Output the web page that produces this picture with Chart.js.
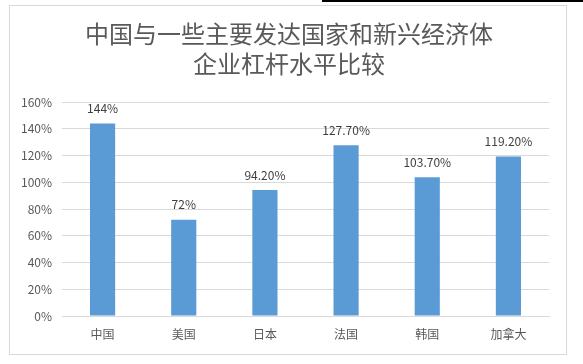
<!DOCTYPE html>
<html>
<head>
<meta charset="utf-8">
<script src="https://cdn.jsdelivr.net/npm/chart.js@4"></script>
<style>
    body { margin: 0; background: #fff; }
    #wrap { position: relative; width: 583px; height: 364px; overflow: hidden; }
    #frame { position: absolute; left: 9px; top: 5px; width: 558px; height: 350px; border: 1px solid #d9d9d9; box-sizing: border-box; }
    #topline { position: absolute; left: 322px; top: 0; width: 261px; height: 2px; background: #000; }
    #chart { position: absolute; left: 0; top: 0; }
</style>
</head>
<body>
<div id="wrap">
    <div id="frame"></div>
    <div id="topline"></div>
    <canvas id="chart" width="583" height="364"></canvas>
</div>
<script>
// chart data
const categories = ['中国', '美国', '日本', '法国', '韩国', '加拿大'];
const leverage = [144, 72, 94.2, 127.7, 103.7, 119.2]; // percent
const valueLabels = ['144%', '72%', '94.20%', '127.70%', '103.70%', '119.20%'];
const titleLines = ['中国与一些主要发达国家和新兴经济体', '企业杠杆水平比较'];

const cjk = '"Noto Sans CJK SC", "Noto Sans", sans-serif';

// draws the value above each bar
const barValues = {
    id: 'barValues',
    afterDatasetsDraw(chart) {
        const ctx = chart.ctx;
        ctx.save();
        ctx.font = '12px ' + cjk;
        ctx.fillStyle = '#404040';
        ctx.textAlign = 'center';
        ctx.textBaseline = 'bottom';
        chart.getDatasetMeta(0).data.forEach(function (bar, i) {
            ctx.fillText(valueLabels[i], bar.x, bar.y - 9);
        });
        ctx.restore();
    }
};

const ctx = document.getElementById('chart').getContext('2d');
new Chart(ctx, {
    type: 'bar',
    data: {
        labels: categories,
        datasets: [{
            data: leverage,
            backgroundColor: '#5b9bd5',
            categoryPercentage: 1,
            barPercentage: 0.31
        }]
    },
    options: {
        responsive: false,
        animation: false,
        layout: { padding: { left: 0, right: 5, top: 0, bottom: 0 } },
        plugins: {
            legend: { display: false },
            tooltip: { enabled: false },
            title: {
                display: true,
                text: titleLines,
                color: '#595959',
                font: { family: cjk, size: 24, weight: 'normal', lineHeight: '30px' },
                padding: { top: 19, bottom: 23 }
            }
        },
        scales: {
            x: {
                grid: { display: false, drawTicks: false },
                border: { display: true, color: '#d9d9d9' },
                ticks: { color: '#595959', font: { family: cjk, size: 12 }, padding: 11 },
                afterFit: function (scale) { scale.height = 48; }
            },
            y: {
                min: 0,
                max: 160,
                grid: { color: '#d9d9d9', drawTicks: false },
                border: { display: false },
                ticks: {
                    stepSize: 20,
                    color: '#595959',
                    font: { family: cjk, size: 12 },
                    padding: 10,
                    callback: function (v) { return v + '%'; }
                },
                afterFit: function (scale) { scale.width = 62; }
            },
            // empty spacer on the right so the title stays centred on the frame
            spacer: {
                type: 'linear',
                position: 'right',
                grid: { display: false, drawTicks: false },
                border: { display: false },
                ticks: { display: false },
                afterFit: function (scale) { scale.width = 29; }
            }
        }
    },
    plugins: [barValues]
});
</script>
</body>
</html>
